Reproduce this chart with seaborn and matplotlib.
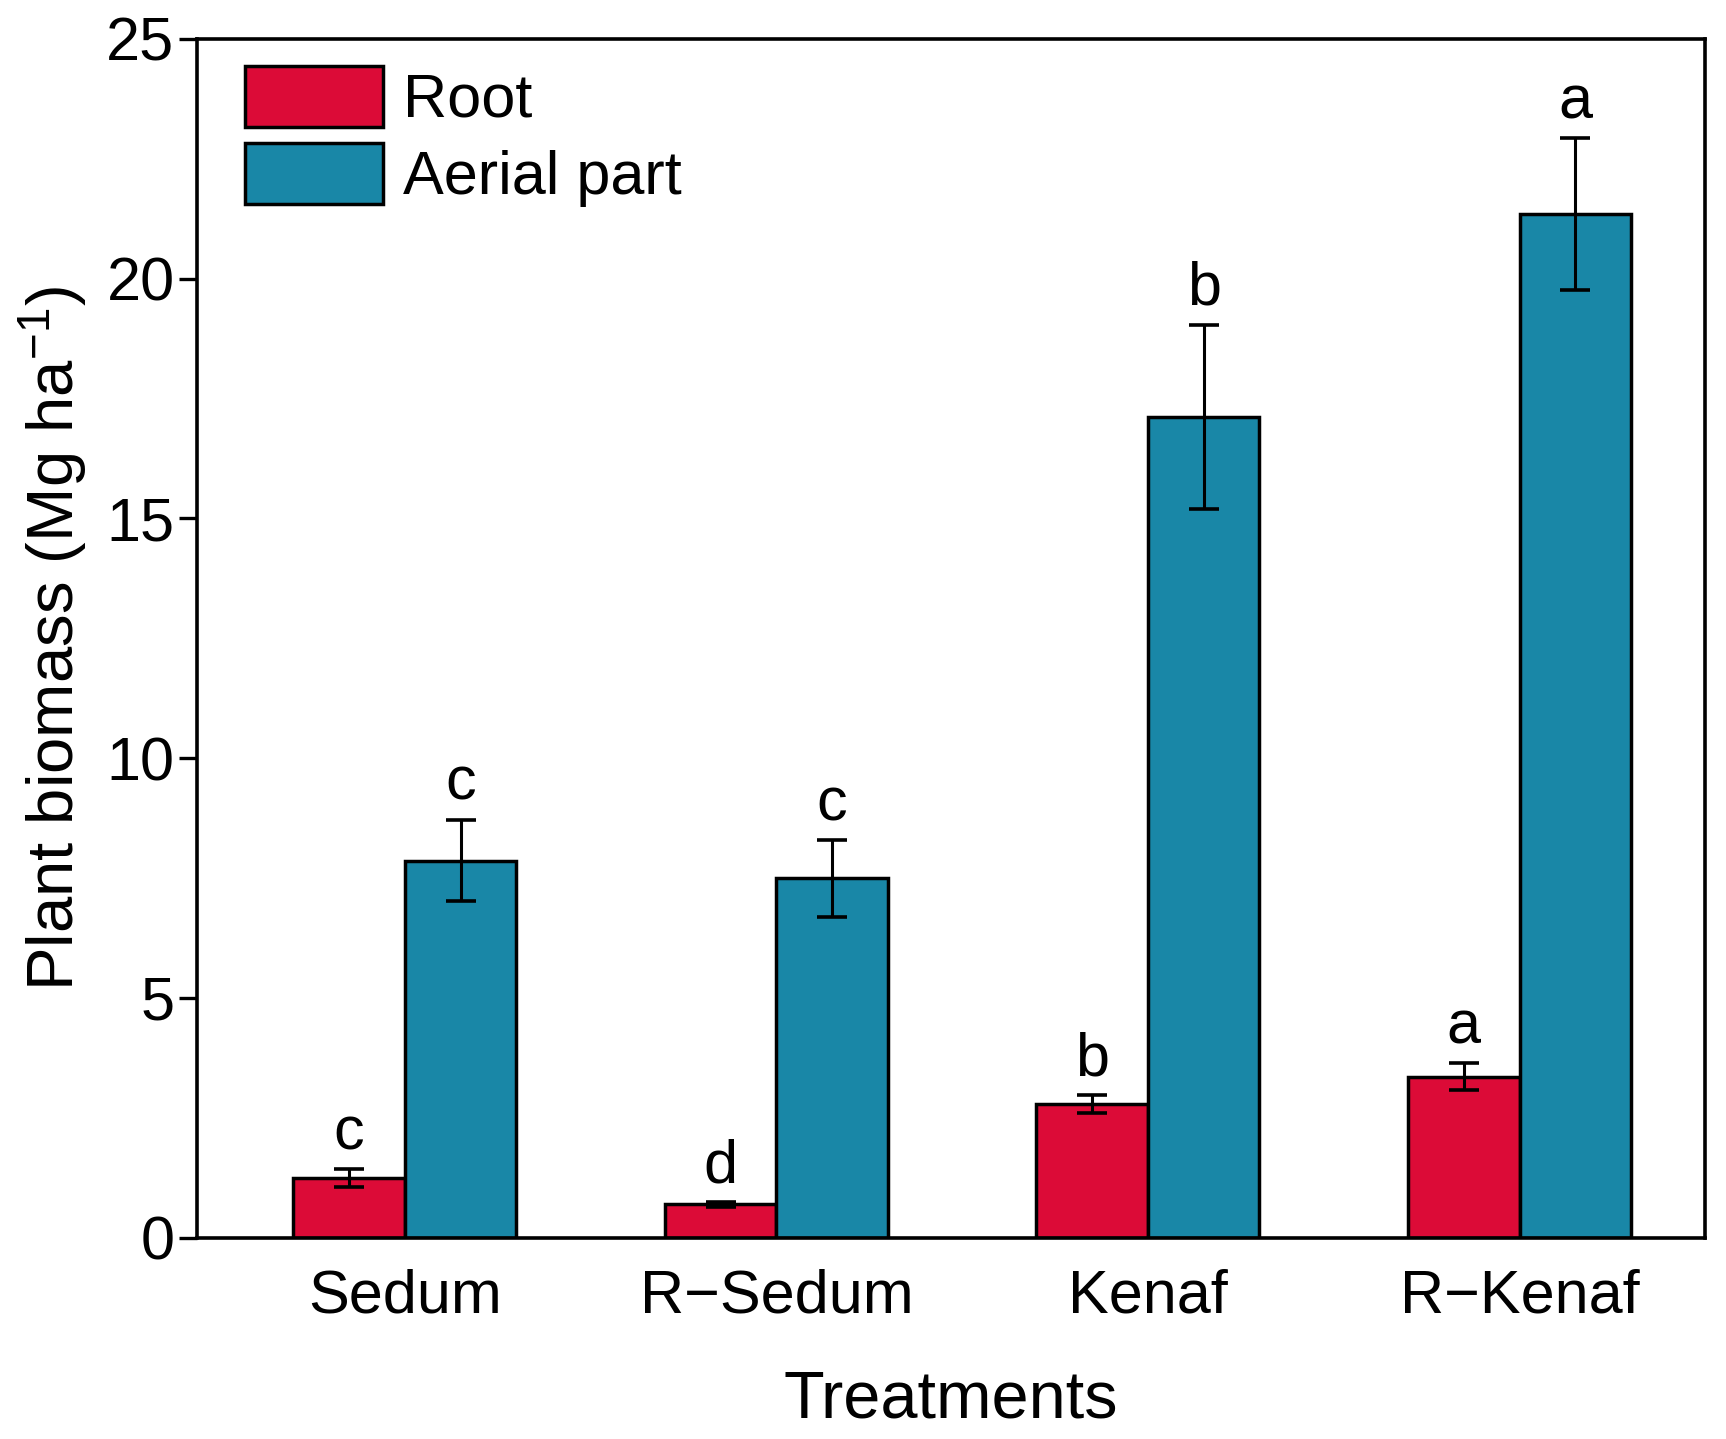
import pandas as pd
import matplotlib
matplotlib.use("Agg")
import matplotlib.pyplot as plt
import seaborn as sns

# Data
treatments = ["Sedum", "R\u2212Sedum", "Kenaf", "R\u2212Kenaf"]
parts = ["Root", "Aerial part"]
root_mean = [1.24, 0.69, 2.78, 3.35]
root_err = [0.18, 0.05, 0.19, 0.28]
aerial_mean = [7.86, 7.49, 17.12, 21.35]
aerial_err = [0.85, 0.80, 1.92, 1.58]
root_letters = ["c", "d", "b", "a"]
aerial_letters = ["c", "c", "b", "a"]

colors = {"Root": "#DC0B37", "Aerial part": "#1987A7"}

df = pd.DataFrame({
    "Treatment": treatments * 2,
    "Part": [parts[0]] * 4 + [parts[1]] * 4,
    "Biomass": root_mean + aerial_mean,
})

sns.set_style("ticks")
plt.rcParams["font.family"] = ["Liberation Sans", "DejaVu Sans"]
plt.rcParams["mathtext.default"] = "regular"
for k in ["text.color", "axes.labelcolor", "xtick.color", "ytick.color", "axes.edgecolor"]:
    plt.rcParams[k] = "black"

fig, ax = plt.subplots(figsize=(17.26, 14.39), dpi=100)
fig.subplots_adjust(left=0.114, right=0.988, top=0.973, bottom=0.14)

sns.barplot(data=df, x="Treatment", y="Biomass", hue="Part", order=treatments,
            hue_order=parts, palette=colors, width=0.6, edgecolor="black",
            linewidth=2.5, errorbar=None, saturation=1, ax=ax)

errs = [root_err, aerial_err]
means = [root_mean, aerial_mean]
letters = [root_letters, aerial_letters]
for cont, m, e, lab in zip(ax.containers, means, errs, letters):
    xs = [b.get_x() + b.get_width() / 2 for b in cont]
    ax.errorbar(xs, m, yerr=e, fmt="none", ecolor="black", elinewidth=2.2,
                capsize=11, capthick=2.6, zorder=5)
    for x, v, er, t in zip(xs, m, e, lab):
        ax.annotate(t, (x, v + er), xytext=(0, 5), textcoords="offset points",
                    ha="center", va="bottom", fontsize=44)

ax.set_xlim(-0.56, 3.5)
ax.set_ylim(0, 25)
ax.set_yticks([0, 5, 10, 15, 20, 25])
ax.tick_params(axis="y", direction="out", length=13, width=2.4, labelsize=44, pad=3)
ax.tick_params(axis="x", length=0, labelsize=44, pad=22)
for s in ax.spines.values():
    s.set_visible(True)
    s.set_linewidth(2.6)
    s.set_color("black")

ax.set_xlabel("Treatments", fontsize=48, labelpad=32)
ax.set_ylabel("Plant biomass (Mg ha$^{-1}$)", fontsize=47, labelpad=12)

handles, labels = ax.get_legend_handles_labels()
ax.legend(handles, labels, loc="upper left", bbox_to_anchor=(0.008, 1.008),
          frameon=False, fontsize=44,
          handlelength=2.25, handleheight=1.15, labelspacing=0.22,
          handletextpad=0.33, borderaxespad=0.3, borderpad=0.3)

plt.savefig("out.png", dpi=100)
plt.close()
